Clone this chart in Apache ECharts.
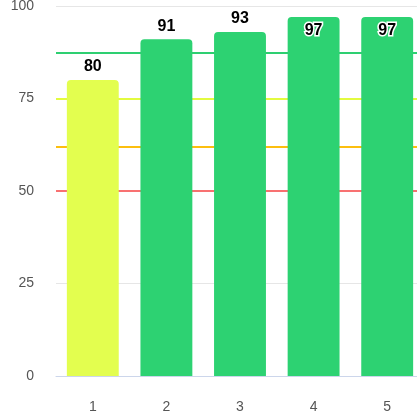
<!DOCTYPE html>
<html>
<head>
<meta charset="utf-8">
<script src="https://cdn.jsdelivr.net/npm/echarts@6/dist/echarts.min.js"></script>
<style>
  html, body { margin: 0; padding: 0; background: #fff; }
  #chart { width: 417px; height: 414px; }
</style>
</head>
<body>
<div id="chart"></div>
<script>
  // categories and scores
  const categories = ['1', '2', '3', '4', '5']
  const scores = [80, 91, 93, 97, 97]
  // threshold lines
  const thresholds = [50, 62, 75, 87.5]
  const thresholdColors = ['#f87171', '#fcbf0f', '#e3fb3f', '#2ecf71']

  const chart = echarts.init(document.getElementById('chart'))

  // labels of the tallest bars sit inside the bar
  const barData = scores.map(v => {
    if (v > 95) {
      return { value: v, label: { position: 'insideTop', distance: 5 } }
    }
    return v
  })

  chart.setOption({
    animation: false,
    grid: {
      left: 56,
      right: -7,
      top: 6,
      bottom: 38,
      outerBoundsMode: 'none'
    },
    visualMap: {
      show: false,
      seriesIndex: 0,
      pieces: [
        { lt: 75, color: '#fcbf0f' },
        { gte: 75, lt: 87.5, color: '#e3fe4f' },
        { gte: 87.5, color: '#2dd272' }
      ]
    },
    xAxis: {
      type: 'category',
      data: categories,
      axisTick: { show: false },
      axisLine: { lineStyle: { color: '#ccd6eb' } },
      axisLabel: { color: '#555', fontSize: 14, margin: 24, fontFamily: 'Liberation Sans, Arial' }
    },
    yAxis: {
      type: 'value',
      min: 0,
      max: 100,
      interval: 25,
      axisLabel: { color: '#555', fontSize: 14, margin: 22, fontFamily: 'Liberation Sans, Arial' },
      splitLine: { lineStyle: { color: '#e6e6e6' } }
    },
    series: [{
      type: 'bar',
      data: barData,
      barWidth: '70.5%',
      zlevel: 1,
      itemStyle: {
        borderRadius: [4, 4, 0, 0]
      },
      label: {
        show: true,
        position: 'top',
        distance: 5,
        color: '#000',
        fontSize: 16,
        fontWeight: 'bold',
        fontFamily: 'Liberation Sans, Arial',
        textBorderColor: '#fff',
        textBorderWidth: 3
      }
    }, {
      // holder for the threshold lines, drawn under the bars
      type: 'line',
      data: [],
      markLine: {
        silent: true,
        symbol: 'none',
        label: { show: false },
        data: thresholds.map((t, i) => ({
          yAxis: t,
          lineStyle: { color: thresholdColors[i], type: 'solid', width: 2 }
        }))
      }
    }]
  })
</script>
</body>
</html>
